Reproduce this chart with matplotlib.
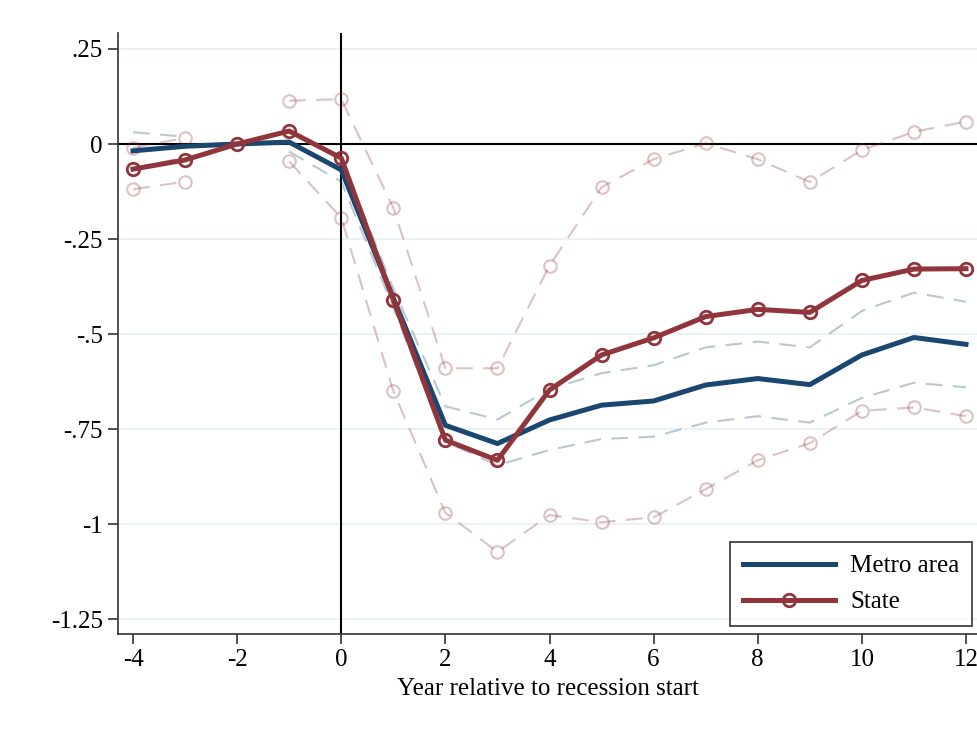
import numpy as np
import matplotlib.pyplot as plt

plt.rcParams['font.family'] = ['Liberation Serif', 'DejaVu Serif']
plt.rcParams['axes.unicode_minus'] = False

years = np.arange(-4, 13)
nan = np.nan

# metro area estimate and 95% CI
metro = [-0.018, -0.006, 0.0, 0.005, -0.068, -0.405, -0.74, -0.788, -0.726,
         -0.687, -0.676, -0.634, -0.617, -0.633, -0.555, -0.509, -0.527]
metro_hi = [0.031, 0.019, nan, 0.03, -0.04, -0.38, -0.69, -0.725, -0.645,
            -0.603, -0.582, -0.535, -0.52, -0.535, -0.439, -0.391, -0.415]
metro_lo = [-0.065, -0.035, nan, -0.02, -0.099, -0.43, -0.783, -0.845, -0.805,
            -0.776, -0.77, -0.733, -0.716, -0.733, -0.668, -0.628, -0.64]

# state estimate and 95% CI
state = [-0.066, -0.042, 0.0, 0.034, -0.037, -0.41, -0.779, -0.832, -0.647,
         -0.555, -0.51, -0.454, -0.435, -0.443, -0.359, -0.329, -0.328]
state_hi = [-0.01, 0.016, nan, 0.114, 0.118, -0.168, -0.59, -0.59, -0.32,
            -0.114, -0.04, 0.002, -0.04, -0.1, -0.016, 0.032, 0.059]
state_lo = [-0.119, -0.099, nan, -0.046, -0.194, -0.65, -0.97, -1.073, -0.976,
            -0.995, -0.982, -0.908, -0.832, -0.787, -0.702, -0.693, -0.716]

yticks = [0.25, 0, -0.25, -0.5, -0.75, -1, -1.25]
ylabels = ['.25', '0', '-.25', '-.5', '-.75', '-1', '-1.25']

blue = '#1a476f'
red = '#90353b'

fig = plt.figure(figsize=(9.77, 7.32), dpi=100)
ax = fig.add_axes([118/977, 1-634/732, 1-118/977, (634-33)/732])

for yt in yticks:
    ax.axhline(yt, color='#eaf2f3', lw=1.5, zorder=0)
ax.axhline(0, color='black', lw=1.5, zorder=1)
ax.axvline(0, color='black', lw=1.5, zorder=1)

ax.plot(years, metro_hi, '--', color=blue, alpha=0.3, lw=1.5, dashes=(8, 5), zorder=2)
ax.plot(years, metro_lo, '--', color=blue, alpha=0.3, lw=1.5, dashes=(8, 5), zorder=2)
ax.plot(years, state_hi, '--', color=red, alpha=0.3, lw=1.5, dashes=(8, 5),
        marker='o', mfc='none', ms=9, mew=1.5, zorder=2)
ax.plot(years, state_lo, '--', color=red, alpha=0.3, lw=1.5, dashes=(8, 5),
        marker='o', mfc='none', ms=9, mew=1.5, zorder=2)

ax.plot(years, metro, '-', color=blue, lw=3.6, label='Metro area', zorder=3)
ax.plot(years, state, '-', color=red, lw=3.6, marker='o', mfc='none', ms=9,
        mew=2, label='State', zorder=4)

ax.set_xlim(-4 - 15/52, 12 + 11/52)
ax.set_ylim(-1.289, 0.292)
ax.set_xticks(range(-4, 13, 2))
ax.set_yticks(yticks)
ax.set_yticklabels(ylabels)
ax.tick_params(labelsize=18, length=7, width=1.2, color='#333333', pad=4)
ax.set_xlabel('Year relative to recession start', fontsize=18, labelpad=5)

for s in ['top', 'right']:
    ax.spines[s].set_visible(False)
for s in ['left', 'bottom']:
    ax.spines[s].set_color('#333333')
    ax.spines[s].set_linewidth(1.2)

leg = ax.legend(loc='lower right', fontsize=18, frameon=True, fancybox=False,
                edgecolor='black', handlelength=3.7, handletextpad=0.6,
                borderpad=0.5, labelspacing=0.55, borderaxespad=0,
                bbox_to_anchor=(1 - 5/859, 8/601))
leg.get_frame().set_linewidth(1.2)

fig.savefig('out.png', dpi=100)
